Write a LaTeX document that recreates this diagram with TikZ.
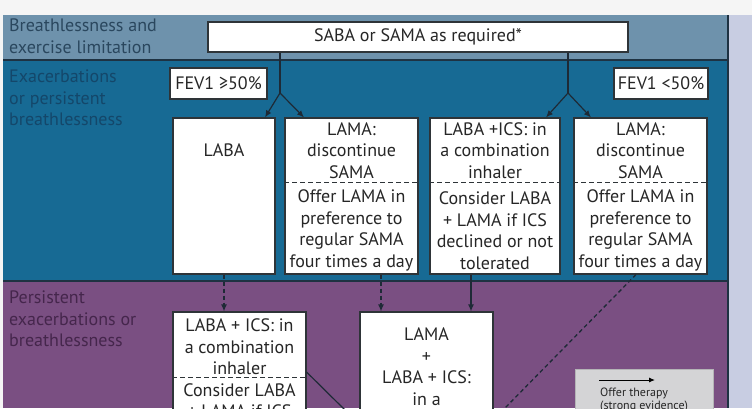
\documentclass[tikz,border=0pt]{standalone}
\usepackage{fontspec}
\setmainfont{PT Sans}
\usetikzlibrary{arrows.meta}
\definecolor{topbg}{HTML}{F5F5F5}
\definecolor{strip}{HTML}{C8CDE2}
\definecolor{bandA}{HTML}{6E92AC}
\definecolor{bandB}{HTML}{176A94}
\definecolor{bandC}{HTML}{7A4F82}
\definecolor{sepc}{HTML}{1E3242}
\definecolor{labA}{HTML}{2A475E}
\definecolor{labB}{HTML}{14476A}
\definecolor{labC}{HTML}{45264C}
\definecolor{boxline}{HTML}{2E3438}
\definecolor{boxtext}{HTML}{262626}
\definecolor{arrowc}{HTML}{1E2A36}
\definecolor{legbg}{HTML}{D4D4D6}
\tikzset{
  box/.style={draw=boxline, fill=white, line width=1.1pt, inner sep=0pt},
  txt/.style={font=\fontsize{18}{21.5}\selectfont, text=boxtext, align=center, inner sep=0pt},
  lab/.style={font=\fontsize{18}{21.5}\selectfont, align=left, inner sep=0pt, anchor=north west},
  conn/.style={draw=arrowc, line width=1.2pt},
  tip/.style={-{Latex[length=7pt,width=6pt]}},
  dashconn/.style={dash pattern=on 4pt off 3pt},
  divider/.style={draw=boxline, line width=0.9pt, dash pattern=on 5pt off 3pt},
}
\begin{document}
\begin{tikzpicture}[x=1pt,y=-1pt]
\clip (0,0) rectangle (752,408);
% backgrounds
\fill[topbg] (0,0) rectangle (752,408);
\fill[strip] (728,15) rectangle (752,408);
\fill[bandA] (3,15) rectangle (728,60);
\fill[bandB] (3,60) rectangle (728,281);
\fill[bandC] (3,281) rectangle (728,408);
\draw[sepc, line width=1.2pt] (3,60) -- (728,60);
\draw[sepc, line width=1.2pt] (3,281) -- (728,281);
\draw[sepc, line width=1.2pt] (728,15) -- (728,408);

% band labels
\node[lab, text=labA] (labelA) at (9,19) {Breathlessness and\\exercise limitation};
\node[lab, text=labB] (labelB) at (9,70) {Exacerbations\\or persistent\\breathlessness};
\node[lab, text=labC] (labelC) at (9,291) {Persistent\\exacerbations or\\breathlessness};

% top box
\node[box, minimum width=420pt, minimum height=30pt] (saba) at (418,37) {};
\node[txt] (sabat) at (418,37) {SABA or SAMA as required*};

% FEV boxes
\node[box, minimum width=97pt, minimum height=31pt] (fevA) at (218.5,83.5) {};
\node[txt] (fevAt) at (218.5,83.5) {FEV1 ≥50\%};
\node[box, minimum width=94pt, minimum height=31pt] (fevB) at (661,83.5) {};
\node[txt] (fevBt) at (661,83.5) {FEV1 <50\%};

% band 2 boxes
\node[box, minimum width=102pt, minimum height=156pt] (laba) at (224,196) {};
\node[box, minimum width=133pt, minimum height=156pt] (lamaA) at (351.5,196) {};
\node[box, minimum width=130pt, minimum height=156pt] (ics) at (495,196) {};
\node[box, minimum width=133pt, minimum height=156pt] (lamaB) at (640.5,196) {};

\node[txt] (labat) at (224,150.5) {LABA};
\node[txt] (lamaAt) at (351.5,150.5) {LAMA:\\discontinue\\SAMA};
\node[txt] (lamaAb) at (351.5,230.5) {Offer LAMA in\\preference to\\regular SAMA\\four times a day};
\node[txt] (icst) at (495,150.5) {LABA +ICS: in\\a combination\\inhaler};
\node[txt] (icsb) at (495,230.5) {Consider LABA\\+ LAMA if ICS\\declined or not\\tolerated};
\node[txt] (lamaBt) at (640.5,150.5) {LAMA:\\discontinue\\SAMA};
\node[txt] (lamaBb) at (640.5,230.5) {Offer LAMA in\\preference to\\regular SAMA\\four times a day};

\coordinate (dv) at (0,182);
\draw[divider] (lamaA.west |- dv) -- (lamaA.east |- dv);
\draw[divider] (ics.west |- dv) -- (ics.east |- dv);
\draw[divider] (lamaB.west |- dv) -- (lamaB.east |- dv);

% band 3 boxes
\node[box, minimum width=133pt, minimum height=140pt] (comb) at (239.5,382) {};
\node[box, minimum width=133pt, minimum height=140pt] (triple) at (426.5,382) {};
\node[txt] (combt) at (239.5,347) {LABA + ICS: in\\a combination\\inhaler};
\node[txt, anchor=north] (combb) at (239.5,383) {Consider LABA\\+ LAMA if ICS};
\coordinate (dv2) at (0,377);
\draw[divider] (comb.west |- dv2) -- (comb.east |- dv2);
\node[txt, anchor=north] (triplet) at (426.5,327.5) {LAMA\\+\\LABA + ICS:\\in a};

% legend
\node[fill=legbg, draw=legbg!85!black, line width=0.4pt, minimum width=138pt, minimum height=60pt, inner sep=0pt] (leg) at (644,399) {};
\coordinate (legA) at (599,380);
\coordinate (legB) at (655,380);
\draw[black, line width=1pt, -{Latex[length=6pt,width=5pt]}] (legA) -- (legB);
\node[font=\fontsize{12}{13}\selectfont, text=black!85, align=left, anchor=north west, inner sep=0pt] (legt) at (600,388) {Offer therapy\\(strong evidence)};

% connectors
\coordinate (s1) at (280,93);
\coordinate (s2) at (568,93);
\coordinate (x280) at (280,0);
\coordinate (x568) at (568,0);
\coordinate (tA) at (265,0);
\coordinate (tB) at (304,0);
\coordinate (tC) at (546,0);
\coordinate (tD) at (591,0);
\draw[conn] (saba.south -| x280) -- (s1);
\draw[conn, tip] (s1) -- (laba.north -| tA);
\draw[conn, tip] (s1) -- (lamaA.north -| tB);
\draw[conn] (saba.south -| x568) -- (s2);
\draw[conn, tip] (s2) -- (ics.north -| tC);
\draw[conn, tip] (s2) -- (lamaB.north -| tD);

\coordinate (x224) at (224,0);
\coordinate (x381) at (381,0);
\coordinate (x471) at (471,0);
\coordinate (x636) at (636,0);
\draw[conn, tip, dashconn] (laba.south -| x224) -- (comb.north -| x224);
\draw[conn, tip, dashconn] (lamaA.south -| x381) -- (triple.north -| x381);
\draw[conn, tip] (ics.south -| x471) -- (triple.north -| x471);
\coordinate (dEnd) at (503,410);
\draw[conn, dashconn, line width=1.3pt] (lamaB.south -| x636) -- (dEnd);
\coordinate (cStart) at (0,372);
\coordinate (cEnd) at (346,411);
\draw[conn] (comb.east |- cStart) -- (cEnd);
\end{tikzpicture}
\end{document}
